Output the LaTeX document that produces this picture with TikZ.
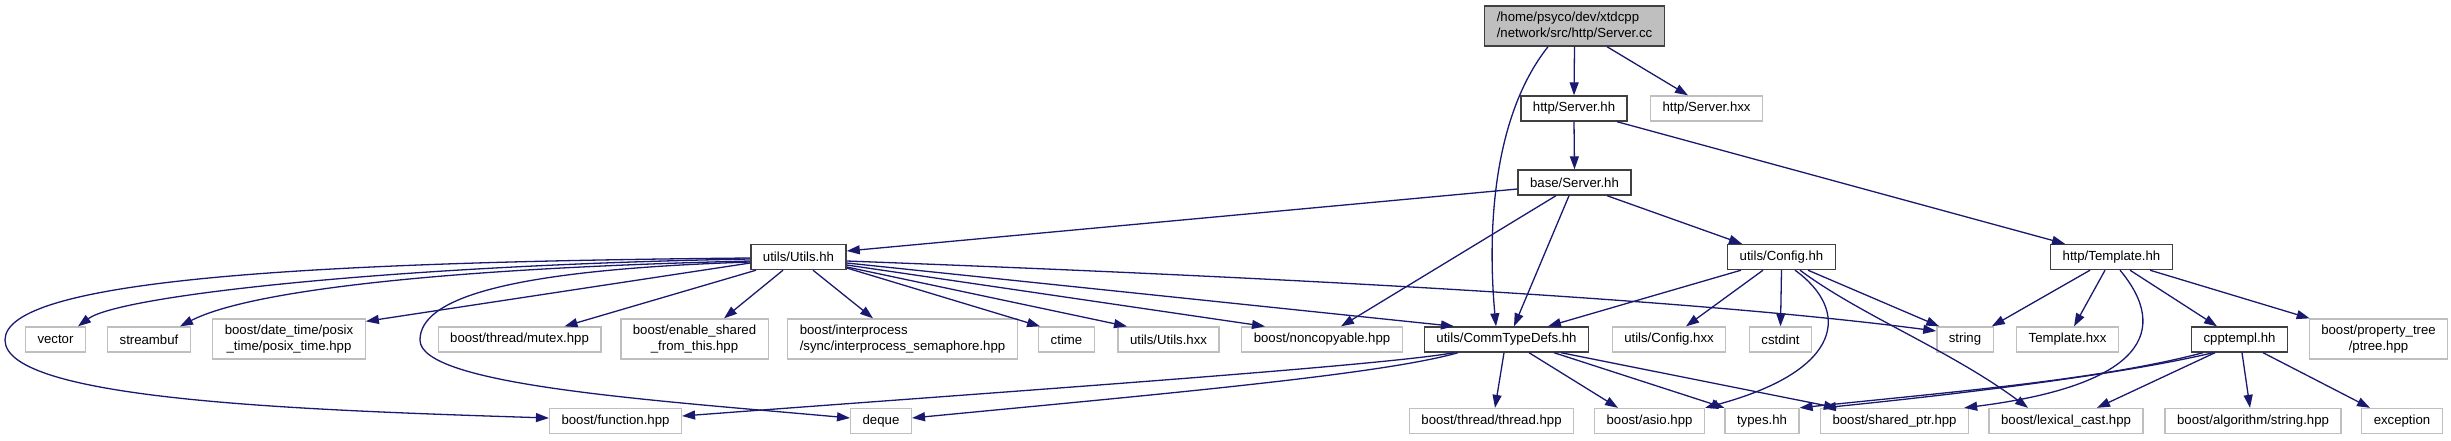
\documentclass[tikz,border=0pt]{standalone}
\usepackage{fontspec}
\setmainfont{Liberation Sans}
\usetikzlibrary{arrows.meta}
\definecolor{edgec}{HTML}{191970}
\definecolor{extb}{HTML}{BFBFBF}
\definecolor{intb}{HTML}{404040}
\definecolor{rootf}{HTML}{BFBFBF}
\begin{document}
\begin{tikzpicture}[x=1pt,y=-1pt,
  box/.style={draw, rectangle, inner xsep=12pt, inner ysep=2pt, minimum height=25pt,
    font={\fontsize{13.2}{15.5}\selectfont}, text=black, anchor=center},
  ext/.style={box, draw=extb, line width=1.3pt},
  int/.style={box, draw=intb, line width=1.4pt},
  tall/.style={minimum height=40pt},
  e/.style={draw=edgec, line width=1.3pt, -{Triangle[length=13pt,width=9pt]}}]
\useasboundingbox (0,0) rectangle (2451,440);
% row 0-3
\node[int, fill=rootf, tall, align=left] (sc) at (1574.5,26) {/home/psyco/dev/xtdcpp\\/network/src/http/Server.cc};
\node[int] (hsh) at (1574,108.5) {http/Server.hh};
\node[ext] (hsx) at (1706.5,108.5) {http/Server.hxx};
\node[int] (bsh) at (1574.5,182.5) {base/Server.hh};
\node[int] (uh) at (798.5,257) {utils/Utils.hh};
\node[int] (ch) at (1781.5,257) {utils/Config.hh};
\node[int] (th) at (2111.5,257) {http/Template.hh};
% row 4
\node[ext] (vec) at (55.5,339.5) {vector};
\node[ext] (sbuf) at (149,339.5) {streambuf};
\node[ext, tall, align=center] (posix) at (289,339) {boost/date\_time/posix\\\_time/posix\_time.hpp};
\node[ext] (mutex) at (519.5,339.5) {boost/thread/mutex.hpp};
\node[ext, tall, align=center] (enable) at (694.5,339) {boost/enable\_shared\\\_from\_this.hpp};
\node[ext, tall, align=left] (interp) at (902.5,339) {boost/interprocess\\/sync/interprocess\_semaphore.hpp};
\node[ext] (ctime) at (1066.5,339.5) {ctime};
\node[ext] (uhxx) at (1168.5,339.5) {utils/Utils.hxx};
\node[ext] (nonc) at (1322,339.5) {boost/noncopyable.hpp};
\node[int] (ctd) at (1506.5,339.5) {utils/CommTypeDefs.hh};
\node[ext] (chxx) at (1669,339.5) {utils/Config.hxx};
\node[ext] (cstdint) at (1780.5,339.5) {cstdint};
\node[ext] (string) at (1965,339.5) {string};
\node[ext] (thxx) at (2067.5,339.5) {Template.hxx};
\node[int] (cpp) at (2239.5,339.5) {cpptempl.hh};
\node[ext, tall, align=center] (ptree) at (2378.5,339) {boost/property\_tree\\/ptree.hpp};
% row 5
\node[ext] (func) at (615.5,421) {boost/function.hpp};
\node[ext] (deque) at (881,421) {deque};
\node[ext] (thread) at (1491.5,421) {boost/thread/thread.hpp};
\node[ext] (asio) at (1649.5,421) {boost/asio.hpp};
\node[ext] (types) at (1762,421) {types.hh};
\node[ext] (sptr) at (1894.5,421) {boost/shared\_ptr.hpp};
\node[ext] (lcast) at (2066,421) {boost/lexical\_cast.hpp};
\node[ext] (algo) at (2253,421) {boost/algorithm/string.hpp};
\node[ext] (exc) at (2402,421) {exception};
% edges from Server.cc
\draw[e] (sc.south) -- (hsh.north);
\draw[e] ([xshift=32.5pt]sc.south) -- ([xshift=-18.5pt]hsx.north);
\draw[e] ([xshift=-26.5pt]sc.south) .. controls (1490,120) and (1488,240) .. ([xshift=-10.5pt]ctd.north);
% http/Server.hh
\draw[e] (hsh.south) -- (bsh.north);
\draw[e] ([xshift=43pt]hsh.south) -- ([xshift=-46.5pt]th.north);
% base/Server.hh
\draw[e] ([yshift=-6.5pt]bsh.west) -- ([yshift=6pt]uh.east);
\draw[e] ([xshift=-18.5pt]bsh.south) -- ([xshift=19pt]nonc.north);
\draw[e] ([xshift=-5.5pt]bsh.south) -- ([xshift=7.5pt]ctd.north);
\draw[e] ([xshift=32.5pt]bsh.south) -- ([xshift=-39.5pt]ch.north);
% utils/Utils.hh
\draw[e] ([yshift=-2pt]uh.west) .. controls (400,265) and (120,295) .. ([xshift=22.5pt]vec.north);
\draw[e] ([yshift=-4pt]uh.west) .. controls (450,268) and (250,290) .. ([xshift=31pt]sbuf.north);
\draw[e] ([yshift=-6pt]uh.west) -- ([yshift=-3pt]posix.north east);
\draw[e] ([xshift=-42.5pt]uh.south) -- ([xshift=45pt]mutex.north);
\draw[e] ([xshift=-15.5pt]uh.south) -- ([xshift=29.5pt]enable.north);
\draw[e] ([xshift=14.5pt]uh.south) -- ([xshift=-29.5pt]interp.north);
\draw[e] ([yshift=-11pt]uh.east) -- ([xshift=2pt]ctime.north west);
\draw[e] ([yshift=-10pt]uh.east) -- ([xshift=-41.5pt]uhxx.north);
\draw[e] ([yshift=-8pt]uh.east) -- ([xshift=-57pt]nonc.north);
\draw[e] ([yshift=-6pt]uh.east) -- ([xshift=-52.5pt]ctd.north);
\draw[e] ([yshift=-4pt]uh.east) .. controls (1300,278) and (1700,300) .. ([yshift=8.5pt]string.west);
\draw[e] ([yshift=-1pt]uh.west) .. controls (300,262) and (5,280) .. (5,340) .. controls (5,400) and (300,410) .. ([yshift=3pt]func.west);
\draw[e] ([yshift=-5pt]uh.west) .. controls (500,270) and (420,300) .. (420,340) .. controls (420,385) and (650,400) .. ([yshift=3pt]deque.west);
% utils/CommTypeDefs.hh
\draw[e] ([xshift=-52.5pt]ctd.south) .. controls (1380,366) and (1000,392) .. ([yshift=5pt]func.east);
\draw[e] ([xshift=-48.5pt]ctd.south) .. controls (1380,375) and (1150,395) .. ([yshift=3pt]deque.east);
\draw[e] ([xshift=-2.5pt]ctd.south) -- ([xshift=3.5pt]thread.north);
\draw[e] ([xshift=22.5pt]ctd.south) -- ([xshift=-31.5pt]asio.north);
\draw[e] ([xshift=47.5pt]ctd.south) -- (types.north west);
\draw[e] ([xshift=54.5pt]ctd.south) -- ([xshift=-57.5pt]sptr.north);
% utils/Config.hh
\draw[e] ([xshift=-40.5pt]ch.south) -- ([xshift=41.5pt]ctd.north);
\draw[e] ([xshift=-18.5pt]ch.south) -- ([xshift=17pt]chxx.north);
\draw[e] (ch.south) -- (cstdint.north);
\draw[e] ([xshift=13.5pt]ch.south) .. controls (1850,310) and (1845,370) .. (asio.north east);
\draw[e] ([xshift=18.5pt]ch.south) .. controls (1860,315) and (1950,350) .. ([xshift=-38pt]lcast.north);
\draw[e] ([xshift=26.5pt]ch.south) -- ([xshift=3pt]string.north west);
% http/Template.hh
\draw[e] ([xshift=-21.5pt]th.south) -- ([xshift=-2pt]string.north east);
\draw[e] ([xshift=-6.5pt]th.south) -- ([xshift=6.5pt]thxx.north);
\draw[e] ([xshift=8.5pt]th.south) .. controls (2170,330) and (2145,385) .. ([xshift=-5pt]sptr.north east);
\draw[e] ([xshift=18.5pt]th.south) -- ([xshift=-22.5pt]cpp.north);
\draw[e] ([xshift=38.5pt]th.south) -- ([xshift=1pt]ptree.north west);
% cpptempl.hh
\draw[e] ([xshift=-36.5pt]cpp.south) .. controls (2100,380) and (1950,392) .. (types.north east);
\draw[e] ([xshift=-26.5pt]cpp.south) .. controls (2120,375) and (1950,395) .. ([xshift=3pt]sptr.north west);
\draw[e] ([xshift=-24.5pt]cpp.south) -- ([xshift=31pt]lcast.north);
\draw[e] ([xshift=2.5pt]cpp.south) -- ([xshift=-3pt]algo.north);
\draw[e] ([xshift=23.5pt]cpp.south) -- ([xshift=-32pt]exc.north);
\end{tikzpicture}
\end{document}
